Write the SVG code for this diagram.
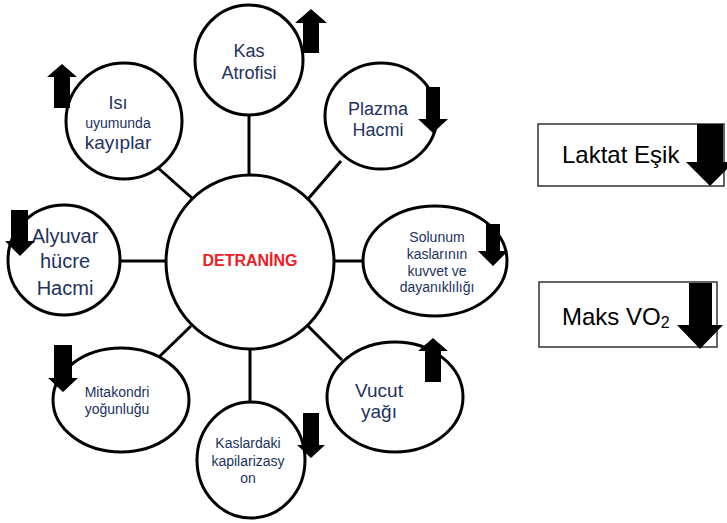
<svg xmlns="http://www.w3.org/2000/svg" width="727" height="523" viewBox="0 0 727 523">
<style>
.c{fill:#fff;stroke:#000;stroke-width:3}
.l{stroke:#000;stroke-width:3;fill:none}
.a{fill:#000}
.t{font-family:"Liberation Sans",Arial,sans-serif;fill:#22325e;text-anchor:middle}
.b{fill:#fff;stroke:#333;stroke-width:1.5}
.bt{font-family:"Liberation Sans",Arial,sans-serif;fill:#000;font-size:24px}
</style>
<rect width="727" height="523" fill="#fff"/>
<g id="connectors">
<line class="l" x1="249" y1="115" x2="249" y2="176"/>
<line class="l" x1="308" y1="199" x2="341" y2="161"/>
<line class="l" x1="157" y1="167" x2="192" y2="198"/>
<line class="l" x1="120" y1="261" x2="167" y2="261"/>
<line class="l" x1="333" y1="261" x2="364" y2="261"/>
<line class="l" x1="191" y1="326" x2="159" y2="357"/>
<line class="l" x1="250" y1="348" x2="250" y2="403"/>
<line class="l" x1="308" y1="326" x2="342" y2="360"/>
</g>
<g id="center">
<ellipse class="c" cx="250" cy="262" rx="84" ry="87"/>
<text x="250" y="266" font-family="Liberation Sans,Arial,sans-serif" font-weight="bold" font-size="16" fill="#ee1c24" text-anchor="middle">DETRANİNG</text>
</g>
<g id="kas-atrofisi">
<ellipse class="c" cx="249" cy="60" rx="54" ry="55"/>
<text class="t" x="249" y="57" font-size="18">Kas</text>
<text class="t" x="249" y="79" font-size="18">Atrofisi</text>
<polygon class="a" points="311,9 327,23 319,23 319,53 303,53 303,23 295,23"/>
</g>
<g id="plazma-hacmi">
<ellipse class="c" cx="381" cy="116" rx="56" ry="53"/>
<text class="t" x="378" y="115" font-size="18">Plazma</text>
<text class="t" x="378" y="136" font-size="18">Hacmi</text>
<polygon class="a" points="426,87 440,87 440,119 448,119 433,133 418,119 426,119"/>
</g>
<g id="isi-uyumunda">
<ellipse class="c" cx="124" cy="121" rx="58" ry="58"/>
<text class="t" x="118" y="109" font-size="18">Isı</text>
<text class="t" x="118" y="128" font-size="14">uyumunda</text>
<text class="t" x="118" y="149" font-size="19">kayıplar</text>
<polygon class="a" points="62,64 77,77 70,77 70,108 54,108 54,77 47,77"/>
</g>
<g id="alyuvar">
<ellipse class="c" cx="64" cy="260" rx="56" ry="55"/>
<text class="t" x="65" y="243" font-size="20">Alyuvar</text>
<text class="t" x="65" y="268" font-size="20">hücre</text>
<text class="t" x="65" y="295" font-size="20">Hacmi</text>
<polygon class="a" points="11,210 28,210 28,241 35,241 20,256 5,241 11,241"/>
</g>
<g id="solunum">
<ellipse class="c" cx="435" cy="261" rx="72" ry="55"/>
<text class="t" x="437" y="242" font-size="14">Solunum</text>
<text class="t" x="437" y="259" font-size="14">kaslarının</text>
<text class="t" x="437" y="276" font-size="14">kuvvet ve</text>
<text class="t" x="437" y="292" font-size="14">dayanıklılığı</text>
<polygon class="a" points="486,224 500,224 500,251 508,251 493,266 478,251 486,251"/>
</g>
<g id="mitakondri">
<ellipse class="c" cx="121" cy="400" rx="68" ry="52"/>
<text class="t" x="117" y="397" font-size="14">Mitakondri</text>
<text class="t" x="117" y="414" font-size="14">yoğunluğu</text>
<polygon class="a" points="54,345 72,345 72,378 78,378 63,392 48,378 54,378"/>
</g>
<g id="kaslardaki">
<ellipse class="c" cx="251" cy="460" rx="54" ry="58"/>
<text class="t" x="248" y="448" font-size="14">Kaslardaki</text>
<text class="t" x="248" y="466" font-size="14">kapilarizasy</text>
<text class="t" x="248" y="483" font-size="14">on</text>
<polygon class="a" points="303,413 319,413 319,445 325,445 311,458 297,445 303,445"/>
</g>
<g id="vucut-yagi">
<ellipse class="c" cx="395" cy="397" rx="68" ry="55"/>
<text class="t" x="379" y="397" font-size="19">Vucut</text>
<text class="t" x="379" y="418" font-size="19">yağı</text>
<polygon class="a" points="433,338 448,351 441,351 441,382 425,382 425,351 418,351"/>
</g>
<g id="laktat-esik">
<rect class="b" x="538" y="124" width="186" height="62"/>
<text class="bt" x="562" y="163" font-size="25">Laktat Eşik</text>
<polygon class="a" points="697,124 723,124 723,162 734,162 710,186 686,162 697,162"/>
</g>
<g id="maks-vo2">
<rect class="b" x="539" y="282" width="178" height="65"/>
<text class="bt" x="562" y="325">Maks VO<tspan font-size="16" dy="3">2</tspan></text>
<polygon class="a" points="689,283 712,283 712,325 723,325 700,349 677,325 689,325"/>
</g>
</svg>
